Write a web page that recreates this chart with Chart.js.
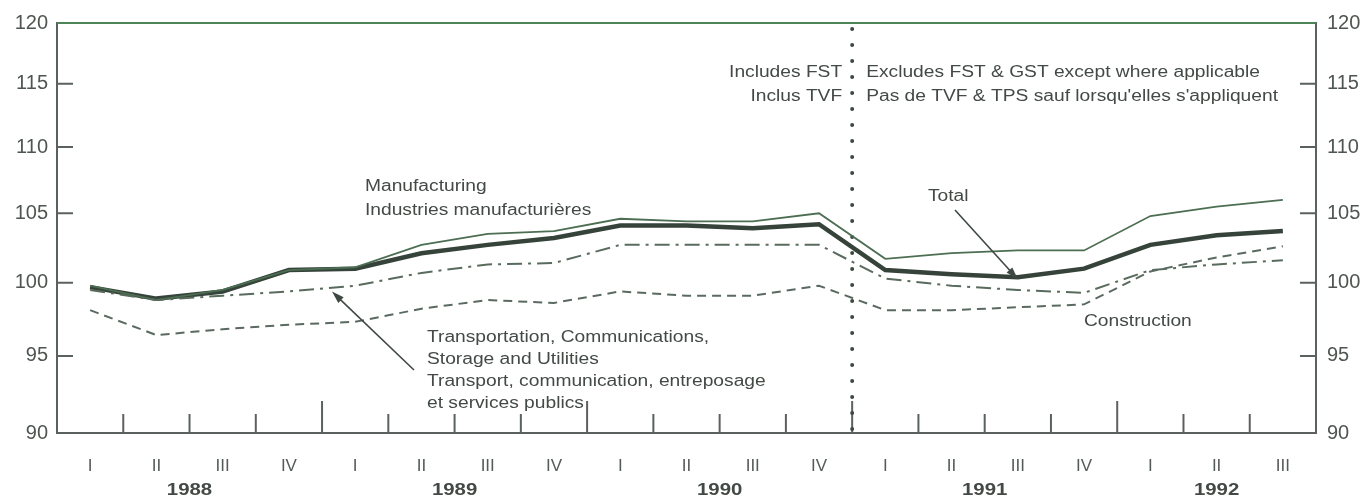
<!DOCTYPE html>
<html>
<head>
<meta charset="utf-8">
<script src="https://cdn.jsdelivr.net/npm/chart.js@4"></script>
<style>
  body { margin: 0; background: #fff; }
  #wrap { width: 1365px; height: 498px; }
</style>
</head>
<body>
<div id="wrap"><canvas id="chart"></canvas></div>
<script>
const quarters = ["I", "II", "III", "IV", "I", "II", "III", "IV", "I", "II", "III", "IV", "I", "II", "III", "IV", "I", "II", "III"];
const years = ["1988", "1989", "1990", "1991", "1992"];
const yearCenters = [1.5, 5.5, 9.5, 13.5, 17];
const yTicks = [90, 95, 100, 105, 110, 115, 120];

const total = [99.7, 98.9, 99.4, 100.9, 101.0, 102.1, 102.7, 103.2, 104.1, 104.1, 103.9, 104.2, 100.9, 100.6, 100.4, 101.0, 102.7, 103.4, 103.7];
const manufacturing = [99.8, 98.8, 99.5, 100.9, 101.1, 102.7, 103.5, 103.7, 104.6, 104.4, 104.4, 105.0, 101.7, 102.1, 102.3, 102.3, 104.8, 105.5, 106.0];
const transport = [99.5, 98.8, 99.1, 99.4, 99.8, 100.7, 101.3, 101.4, 102.7, 102.7, 102.7, 102.7, 100.3, 99.8, 99.5, 99.3, 100.9, 101.3, 101.6];
const construction = [98.1, 96.4, 96.8, 97.1, 97.3, 98.2, 98.8, 98.6, 99.4, 99.1, 99.1, 99.8, 98.1, 98.1, 98.3, 98.5, 100.8, 101.8, 102.6];

const axisColor = "#5b615d";
const textColor = "#434a46";

function points(arr) {
    return arr.map((v, i) => ({ x: i, y: v }));
}

// the scanned lettering is wider than the installed fonts, so stretch it a bit
function stretchText(ctx, str, x, y, align) {
    const sx = 1.2;
    const w = ctx.measureText(str).width * sx;
    let left = x;
    if (align === "right") left = x - w;
    if (align === "center") left = x - w / 2;
    ctx.save();
    ctx.translate(left, y);
    ctx.scale(sx, 1);
    ctx.textAlign = "left";
    ctx.fillText(str, 0, 0);
    ctx.restore();
}

function arrow(ctx, x1, y1, x2, y2) {
    const a = Math.atan2(y2 - y1, x2 - x1);
    ctx.beginPath();
    ctx.moveTo(x1, y1);
    ctx.lineTo(x2 - 8 * Math.cos(a), y2 - 8 * Math.sin(a));
    ctx.stroke();
    ctx.beginPath();
    ctx.moveTo(x2, y2);
    ctx.lineTo(x2 - 13 * Math.cos(a - 0.3), y2 - 13 * Math.sin(a - 0.3));
    ctx.lineTo(x2 - 13 * Math.cos(a + 0.3), y2 - 13 * Math.sin(a + 0.3));
    ctx.closePath();
    ctx.fill();
}

const decor = {
    id: "decor",
    beforeDatasetsDraw(chart) {
        const ctx = chart.ctx;
        const area = chart.chartArea;
        const xs = chart.scales.x;
        const ys = chart.scales.y;
        ctx.save();

        // top frame line
        ctx.strokeStyle = "#4e8558";
        ctx.lineWidth = 2;
        ctx.beginPath();
        ctx.moveTo(area.left, area.top);
        ctx.lineTo(area.right, area.top);
        ctx.stroke();

        // inward ticks on both value axes
        ctx.strokeStyle = axisColor;
        yTicks.slice(1, -1).forEach(v => {
            const py = ys.getPixelForValue(v);
            ctx.beginPath();
            ctx.moveTo(area.left, py);
            ctx.lineTo(area.left + 16, py);
            ctx.moveTo(area.right, py);
            ctx.lineTo(area.right - 16, py);
            ctx.stroke();
        });

        // quarter separators, taller at year boundaries
        for (let i = 0; i < quarters.length - 1; i++) {
            const px = xs.getPixelForValue(i + 0.5);
            const h = (i % 4 === 3) ? 32 : 19;
            ctx.beginPath();
            ctx.moveTo(px, area.bottom);
            ctx.lineTo(px, area.bottom - h);
            ctx.stroke();
        }

        // dotted break between 1990 IV and 1991 I
        const bx = xs.getPixelForValue(11.5);
        ctx.strokeStyle = "#3d4a42";
        ctx.lineWidth = 4;
        ctx.lineCap = "round";
        ctx.setLineDash([0, 16]);
        ctx.beginPath();
        ctx.moveTo(bx, area.top + 6);
        ctx.lineTo(bx, area.bottom);
        ctx.stroke();
        ctx.restore();
    },
    afterDatasetsDraw(chart) {
        const ctx = chart.ctx;
        const xs = chart.scales.x;
        const ys = chart.scales.y;
        ctx.save();
        ctx.fillStyle = textColor;
        ctx.textBaseline = "middle";
        ctx.font = "16px 'Liberation Sans', Arial, sans-serif";

        const bx = xs.getPixelForValue(11.5);
        stretchText(ctx, "Includes FST", bx - 10, 73, "right");
        stretchText(ctx, "Inclus TVF", bx - 10, 97, "right");
        stretchText(ctx, "Excludes FST & GST except where applicable", bx + 14, 73, "left");
        stretchText(ctx, "Pas de TVF & TPS sauf lorsqu'elles s'appliquent", bx + 14, 97, "left");

        stretchText(ctx, "Manufacturing", 365, 187, "left");
        stretchText(ctx, "Industries manufacturières", 365, 211, "left");
        stretchText(ctx, "Total", 928, 197, "left");
        stretchText(ctx, "Construction", 1084, 322, "left");
        stretchText(ctx, "Transportation, Communications,", 427, 338, "left");
        stretchText(ctx, "Storage and Utilities", 427, 360, "left");
        stretchText(ctx, "Transport, communication, entreposage", 427, 382, "left");
        stretchText(ctx, "et services publics", 427, 404, "left");

        ctx.strokeStyle = "#3f4842";
        ctx.fillStyle = "#3f4842";
        ctx.lineWidth = 1.6;
        arrow(ctx, 414, 370, xs.getPixelForValue(3.65), ys.getPixelForValue(99.6) + 3);
        arrow(ctx, 955, 210, xs.getPixelForValue(14), ys.getPixelForValue(100.4) + 2);

        // year labels
        ctx.fillStyle = textColor;
        ctx.font = "bold 17px 'Liberation Sans', Arial, sans-serif";
        years.forEach((y, i) => {
            stretchText(ctx, y, xs.getPixelForValue(yearCenters[i]), 490, "center");
        });
        ctx.restore();
    }
};

function valueAxis(position, width, pad) {
    return {
        type: "logarithmic",
        position: position,
        min: 90,
        max: 120,
        afterBuildTicks: s => { s.ticks = yTicks.map(v => ({ value: v })); },
        afterFit: s => { s.width = width; },
        grid: { display: false, drawTicks: false },
        border: { display: true, color: axisColor, width: 2 },
        ticks: {
            padding: pad,
            color: "#4f5551",
            font: { family: "'Liberation Sans', Arial, sans-serif", size: 20 },
            callback: v => String(v)
        }
    };
}

new Chart(document.getElementById("chart"), {
    type: "line",
    data: {
        datasets: [
            {
                label: "Construction",
                data: points(construction),
                borderColor: "#5b6a60",
                borderWidth: 2,
                borderDash: [9, 6],
                pointRadius: 0
            },
            {
                label: "Transportation, Communications, Storage and Utilities",
                data: points(transport),
                borderColor: "#586b5d",
                borderWidth: 2,
                borderDash: [15, 6, 3, 6],
                pointRadius: 0
            },
            {
                label: "Manufacturing",
                data: points(manufacturing),
                borderColor: "#4c6e52",
                borderWidth: 1.8,
                pointRadius: 0
            },
            {
                label: "Total",
                data: points(total),
                borderColor: "#36433a",
                borderWidth: 4.5,
                pointRadius: 0
            }
        ]
    },
    options: {
        responsive: true,
        maintainAspectRatio: false,
        animation: false,
        layout: { padding: { top: 17, left: 0, right: 0, bottom: 0 } },
        plugins: {
            legend: { display: false },
            tooltip: { enabled: false }
        },
        scales: {
            x: {
                type: "linear",
                min: -0.5,
                max: 18.5,
                afterBuildTicks: s => { s.ticks = quarters.map((q, i) => ({ value: i })); },
                afterFit: s => { s.height = 65; },
                grid: { display: false, drawTicks: false },
                border: { display: true, color: axisColor, width: 2 },
                ticks: {
                    padding: 23,
                    autoSkip: false,
                    maxRotation: 0,
                    color: "#555b57",
                    font: { family: "'Liberation Sans', Arial, sans-serif", size: 17 },
                    callback: v => quarters[v]
                }
            },
            y: valueAxis("left", 57, 9),
            y2: valueAxis("right", 49, 11)
        }
    },
    plugins: [decor]
});
</script>
</body>
</html>
